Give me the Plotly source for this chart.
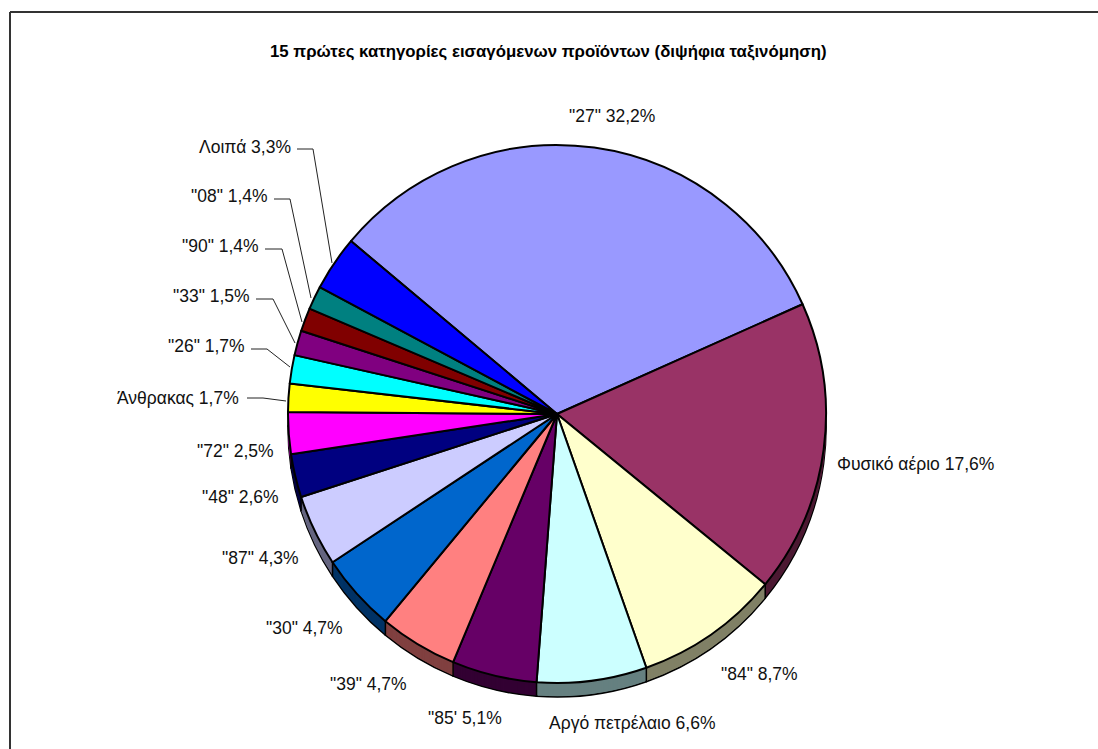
import math
import plotly.graph_objects as go

W, H = 1098, 749

title = "15 πρώτες κατηγορίες εισαγόμενων προϊόντων (διψήφια ταξινόμηση)"
names = ['"27"', "Φυσικό αέριο", '"84"', "Αργό πετρέλαιο", '"85\'', '"39"', '"30"', '"87"',
         '"48"', '"72"', "Άνθρακας", '"26"', '"33"', '"90"', '"08"', "Λοιπά"]
values = [32.2, 17.6, 8.7, 6.6, 5.1, 4.7, 4.7, 4.3, 2.6, 2.5, 1.7, 1.7, 1.5, 1.4, 1.4, 3.3]
colors = ["#9999FF", "#993366", "#FFFFCC", "#CCFFFF", "#660066", "#FF8080", "#0066CC", "#CCCCFF",
          "#000080", "#FF00FF", "#FFFF00", "#00FFFF", "#800080", "#800000", "#008080", "#0000FF"]
side_colors = ["#4D4D80", "#4D1A33", "#808066", "#668080", "#330033", "#804040", "#003366", "#666680",
               "#000040", "#800080", "#808000", "#008080", "#400040", "#400000", "#004040", "#000080"]

# label centres in pixels
label_x = [612, 915, 759, 632, 465, 368, 304, 260, 240, 235, 178, 206, 211, 220, 229, 245]
label_y = [116, 464, 674, 723, 718, 684, 628, 558, 497, 451, 398, 346, 296, 246, 196, 147]

# leader lines, pixels, keyed by series name
leaders = {
    "Λοιπά": [(297, 149), (313, 149), (332, 263)],
    '"08"': [(274, 199), (290, 199), (311, 298)],
    '"90"': [(265, 249), (282, 249), (302, 322)],
    '"33"': [(256, 299), (273, 299), (295, 343)],
    '"26"': [(251, 349), (267, 349), (290, 367)],
    "Άνθρακας": [(247, 398), (263, 398), (286, 401)],
}

CX, CY, R = 557, 414, 269
DEPTH = 14
ROTATION = -50
FONT = "Liberation Sans, Arial, sans-serif"


def px(x):
    return x / W


def py(y):
    return 1 - y / H


def pie_trace(dy, palette, line_w):
    return go.Pie(
        values=values, labels=names, sort=False, direction="clockwise", rotation=ROTATION,
        domain=dict(x=[px(CX - R), px(CX + R)], y=[py(CY + dy + R), py(CY + dy - R)]),
        marker=dict(colors=palette, line=dict(color="black", width=line_w)),
        textinfo="none", hoverinfo="label+percent", showlegend=False,
    )


fig = go.Figure()
fig.add_trace(pie_trace(DEPTH, side_colors, 1.5))
for d in range(DEPTH - 1, 0, -1):
    fig.add_trace(pie_trace(d, side_colors, 0))
fig.add_trace(pie_trace(0, colors, 2))

shapes = []


def line(x0, y0, x1, y1, color="black", width=1.0):
    shapes.append(dict(type="line", xref="paper", yref="paper", x0=px(x0), y0=py(y0), x1=px(x1), y1=py(y1),
                       line=dict(color=color, width=width)))


# frame: top and left edges only
line(10, 12, W, 12, "#333333", 2)
line(10, 12, 10, H, "#333333", 2)

# vertical edges between the side faces of the lower slices
total = sum(values)
cum = 0
for v in values:
    cum += v
    a = math.radians(ROTATION + 360 * cum / total)
    if math.cos(a) < -0.02:
        ex, ey = CX + R * math.sin(a), CY - R * math.cos(a)
        line(ex, ey, ex, ey + DEPTH, "black", 1.5)

for name, pts in leaders.items():
    for (x0, y0), (x1, y1) in zip(pts, pts[1:]):
        line(x0, y0, x1, y1, "#222222", 1)

annotations = [dict(text=f"<b>{title}</b>", x=px(548), y=py(52), xref="paper", yref="paper",
                    showarrow=False, xanchor="center", yanchor="middle",
                    font=dict(family=FONT, size=16.8, color="black"))]
for n, v, x, y in zip(names, values, label_x, label_y):
    annotations.append(dict(text=f"{n} {v:.1f}%".replace(".", ","), x=px(x), y=py(y), xref="paper", yref="paper",
                            showarrow=False, xanchor="center", yanchor="middle",
                            font=dict(family=FONT, size=17.5, color="#111111")))

fig.update_layout(width=W, height=H, margin=dict(l=0, r=0, t=0, b=0), paper_bgcolor="white",
                  plot_bgcolor="white", showlegend=False, shapes=shapes, annotations=annotations)
fig.write_html("out.html", post_script="document.body.style.margin='0';", config=dict(displayModeBar=False))
